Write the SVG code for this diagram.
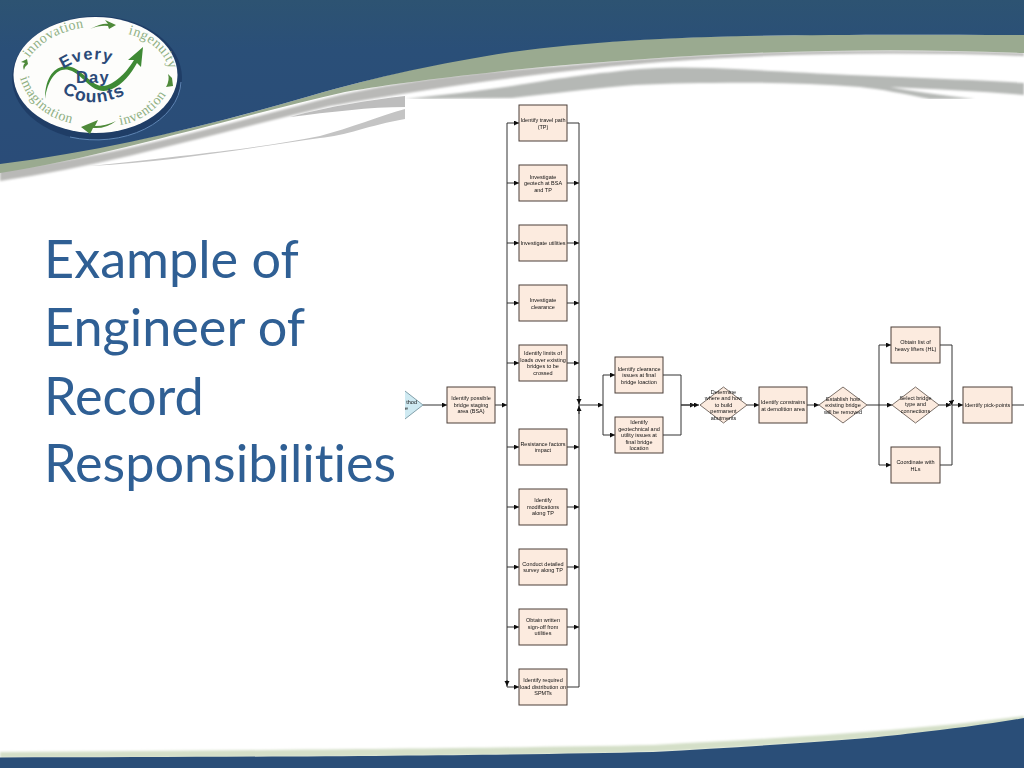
<svg xmlns="http://www.w3.org/2000/svg" width="1024" height="768" viewBox="0 0 1024 768">
<defs>
<style>
.box{fill:#fcebdf;stroke:#4a3f38;stroke-width:1}
.dia{fill:#fcebdf;stroke:#5a4e46;stroke-width:.8}
.t{font-family:"Liberation Sans",Arial,sans-serif;font-size:5.5px;fill:#111;text-anchor:middle}
.c{fill:none;stroke:#333;stroke-width:1}
.a{marker-end:url(#h)}
.title{font-family:Lato,"Open Sans",sans-serif;font-size:52.200px;fill:#2f5f94;font-variant-ligatures:none}
.lg{font-family:"Liberation Serif",serif;font-size:14px;fill:#8fb083;letter-spacing:.5px}
.ed{font-family:"Liberation Sans",Arial,sans-serif;font-weight:bold;fill:#2b4a78;letter-spacing:1.2px}
</style>
<marker id="h" markerUnits="userSpaceOnUse" markerWidth="6" markerHeight="6" refX="5" refY="2.5" orient="auto"><path d="M0 0L5 2.5L0 5Z" fill="#111"/></marker>
<filter id="soft" x="-5%" y="-5%" width="110%" height="110%"><feGaussianBlur stdDeviation="0.35"/></filter>
<filter id="bl" x="-5%" y="-20%" width="110%" height="140%"><feGaussianBlur stdDeviation="1.1"/></filter>
<linearGradient id="bg" x1="0" y1="0" x2="0" y2="1"><stop offset="0" stop-color="#2d5372"/><stop offset=".3" stop-color="#2a4f78"/><stop offset="1" stop-color="#2a4c78"/></linearGradient>
<path id="p1" d="M29 58Q47 33 86 27"/>
<path id="p2" d="M128 34Q160 42 169 68"/>
<path id="p3" d="M20 78Q33 118 80 125"/>
<path id="p4" d="M120 125Q152 120 169 90"/>
<path id="pe" d="M63 69Q92 50 126 69"/>
<path id="pc" d="M62 92Q92 113 132 91"/>
</defs>
<rect width="1024" height="768" fill="#fff"/>
<g id="banner">
<path d="M0 170C120 156 220 125 340 95C420 78 480 72 560 66C700 52 860 47 1024 53V56C860 50 700 55 560 72C460 84 400 94 330 106C220 132 110 165 0 181Z" fill="#b9b9b7" filter="url(#bl)"/>
<path d="M0 160C110 150 210 125 310 96C380 76 440 62 512 51C640 34 800 34 1024 35V53C860 46 700 52 512 70C440 78 390 84 345 92C230 118 110 156 0 173Z" fill="#9aaa90"/>
<path d="M0 0H1024V35C800 34 640 34 512 52C440 63 380 76 310 96C210 125 110 150 0 164Z" fill="url(#bg)"/>
<path d="M290 117C330 106 370 100 405 96V107C370 107 330 112 290 117Z" fill="#bdbdbd"/>
<path d="M90 166C190 155 260 148 320 136C350 128 380 116 405 109V119C370 125 345 136 320 138C250 148 170 162 90 166Z" fill="#c4c4c4"/>
<path d="M405 99C440 95 480 91 512 86C560 78 590 74 612 72C650 67 680 67 712 68C760 70 810 73 850 75C920 78 980 80 1024 83V95C980 91 930 89 890 87C910 91 940 95 975 99H930C905 94 880 89 860 87C810 83 760 82 712 83C680 83 640 84 612 87C570 91 540 95 512 98Z" fill="#b5b8b5" filter="url(#bl)"/>
</g>
<rect id="panel" x="405" y="99" width="619" height="669" fill="#fff"/>
<g id="footer">
<path d="M0 752C300 750 500 748 653 745C780 738 900 732 1024 716V722C950 732 860 742 653 752C500 757 200 758 0 758Z" fill="#d4dfc8" filter="url(#bl)"/>
<path d="M0 757.500C300 757 520 755 653 752C760 746 860 740 914 733C950 729 990 724 1024 718V768H0Z" fill="#2a4e78"/>
</g>
<g id="logo">
<ellipse cx="97" cy="78" rx="85" ry="62" fill="#1f3d66"/>
<path d="M181 82A85 60 0 0 1 70 137" fill="none" stroke="#5f86b5" stroke-width="1"/>
<ellipse cx="95.500" cy="75" rx="82" ry="58" fill="#fdfdfb"/>
<text class="lg"><textPath href="#p1">innovation</textPath></text>
<text class="lg"><textPath href="#p2">ingenuity</textPath></text>
<text class="lg"><textPath href="#p3">imagination</textPath></text>
<text class="lg"><textPath href="#p4">invention</textPath></text>
<path d="M90 29Q102 23 108 24L105 20L116 25L109 29L108 26Q100 25 90 29Z" fill="#4f8a3a"/>
<path d="M116 121Q106 126 95 126L98 120L81 127L90 134L93 128Q106 129 116 121Z" fill="#4f8a3a"/>
<path d="M166 87Q170 80 168 74L172 78L173 86Z" fill="#4f8a3a"/>
<path d="M24 70Q22 66 25 63L21 62L27 59L28 64Q25 66 24 70Z" fill="#4f8a3a"/>
<path d="M45 99C45 72 60 62 74 68C88 75 96 93 112 83C124 76 130 66 134 60L128 60L143 47L141 67L137 63C131 74 123 84 112 89C94 97 86 78 72 71C60 65 48 76 45 99Z" fill="#3f8a35"/>
<text class="ed" font-size="16.500"><textPath href="#pe">Every</textPath></text>
<text class="ed" x="76" y="83" font-size="16.500">Day</text>
<text class="ed" font-size="17.500"><textPath href="#pc">Counts</textPath></text>
</g>
<g id="title" class="title">
<text x="44" y="278">Example of</text>
<text x="44" y="346">Engineer of</text>
<text x="44" y="415">Record</text>
<text x="44" y="482">Responsibilities</text>
</g>
<g filter="url(#soft)">
<g id="connectors">
<path class="c" d="M507 123V687M579 123V687M603 375V435M681 375V435M879 345V465M952 345V465"/>
<path class="c a" d="M423 405H447"/>
<path class="c a" d="M495 405H507"/>
<path class="c a" d="M507 123H519"/><path class="c a" d="M507 183H519"/><path class="c a" d="M507 243H519"/><path class="c a" d="M507 303H519"/><path class="c a" d="M507 363H519"/><path class="c a" d="M507 447H519"/><path class="c a" d="M507 507H519"/><path class="c a" d="M507 567H519"/><path class="c a" d="M507 627H519"/><path class="c a" d="M507 687H519"/>
<path class="c a" d="M507 680V686"/>
<path class="c" d="M567 123H579M567 687H579"/>
<path class="c a" d="M567 183H579"/><path class="c a" d="M567 243H579"/><path class="c a" d="M567 303H579"/><path class="c a" d="M567 363H579"/><path class="c a" d="M567 447H579"/><path class="c a" d="M567 507H579"/><path class="c a" d="M567 567H579"/><path class="c a" d="M567 627H579"/>
<path class="c a" d="M579 396V404"/><path class="c a" d="M579 414V406"/>
<path class="c a" d="M579 405H603"/>
<path class="c a" d="M603 375H615"/><path class="c a" d="M603 435H615"/>
<path class="c" d="M663 375H681M663 435H681"/>
<path class="c a" d="M681 405H695"/><path class="c a" d="M681 405H699"/>
<path class="c a" d="M747 405H759"/><path class="c a" d="M807 405H819"/>
<path class="c" d="M867 405H879"/>
<path class="c a" d="M879 345H891"/><path class="c a" d="M879 405H892"/><path class="c a" d="M879 465H891"/>
<path class="c" d="M940 345H952M940 465H952"/>
<path class="c a" d="M939 405H951"/><path class="c a" d="M949 404L954 400"/>
<path class="c a" d="M952 405H963"/>
<path class="c" d="M1012 405H1024"/>
</g>
<g id="start">
<path d="M405 391L423 405L405 419Z" fill="#cfeaf2"/>
<path d="M405 391L423 405L405 419" fill="none" stroke="#6a8a95" stroke-width=".8"/>
<text class="t" x="417" y="403.500" style="text-anchor:end">thod</text>
<text class="t" x="408" y="410" style="text-anchor:end">e</text>
</g>
<g id="n-bsa"><rect class="box" x="447" y="387" width="48" height="36"/><text class="t"><tspan x="471" y="400">Identify possible</tspan><tspan x="471" y="406.500">bridge staging</tspan><tspan x="471" y="413">area (BSA)</tspan></text></g>
<g id="n-tp"><rect class="box" x="519" y="105" width="48" height="36"/><text class="t"><tspan x="543" y="122">Identify travel path</tspan><tspan x="543" y="128.500">(TP)</tspan></text></g>
<g id="n-geotech"><rect class="box" x="519" y="165" width="48" height="36"/><text class="t"><tspan x="543" y="178.500">Investigate</tspan><tspan x="543" y="185">geotech at BSA</tspan><tspan x="543" y="191.500">and TP</tspan></text></g>
<g id="n-utilities"><rect class="box" x="519" y="225" width="48" height="36"/><text class="t" x="543" y="245">Investigate utilities</text></g>
<g id="n-clearance"><rect class="box" x="519" y="285" width="48" height="36"/><text class="t"><tspan x="543" y="302">Investigate</tspan><tspan x="543" y="308.500">clearance</tspan></text></g>
<g id="n-limits"><rect class="box" x="519" y="345" width="48" height="36"/><text class="t"><tspan x="543" y="355">Identify limits of</tspan><tspan x="543" y="361.500">loads over existing</tspan><tspan x="543" y="368">bridges to be</tspan><tspan x="543" y="374.500">crossed</tspan></text></g>
<g id="n-resistance"><rect class="box" x="519" y="429" width="48" height="36"/><text class="t"><tspan x="543" y="445.500">Resistance factors</tspan><tspan x="543" y="452">impact</tspan></text></g>
<g id="n-mods"><rect class="box" x="519" y="489" width="48" height="36"/><text class="t"><tspan x="543" y="502">Identify</tspan><tspan x="543" y="508.500">modifications</tspan><tspan x="543" y="515">along TP</tspan></text></g>
<g id="n-survey"><rect class="box" x="519" y="549" width="48" height="36"/><text class="t"><tspan x="543" y="565.500">Conduct detailed</tspan><tspan x="543" y="572">survey along TP</tspan></text></g>
<g id="n-signoff"><rect class="box" x="519" y="609" width="48" height="36"/><text class="t"><tspan x="543" y="622">Obtain written</tspan><tspan x="543" y="628.500">sign-off from</tspan><tspan x="543" y="635">utilities</tspan></text></g>
<g id="n-load"><rect class="box" x="519" y="669" width="48" height="36"/><text class="t"><tspan x="543" y="682">Identify required</tspan><tspan x="543" y="688.500">load distribution on</tspan><tspan x="543" y="695">SPMTs</tspan></text></g>
<g id="n-final-clear"><rect class="box" x="615" y="357" width="48" height="36"/><text class="t"><tspan x="639" y="370.500">Identify clearance</tspan><tspan x="639" y="377">issues at final</tspan><tspan x="639" y="383.500">bridge loaction</tspan></text></g>
<g id="n-final-geo"><rect class="box" x="615" y="417" width="48" height="36"/><text class="t"><tspan x="639" y="424">Identify</tspan><tspan x="639" y="430.500">geotechnical and</tspan><tspan x="639" y="437">utility issues at</tspan><tspan x="639" y="443.500">final bridge</tspan><tspan x="639" y="450">location</tspan></text></g>
<g id="n-abut"><path class="dia" d="M700 405L723.500 387L747 405L723.500 423Z"/><text class="t"><tspan x="723.500" y="393.500">Determine</tspan><tspan x="723.500" y="400">where and how</tspan><tspan x="723.500" y="406.500">to build</tspan><tspan x="723.500" y="413">permanent</tspan><tspan x="723.500" y="419.500">abutments</tspan></text></g>
<g id="n-constrains"><rect class="box" x="759" y="387" width="48" height="36"/><text class="t"><tspan x="783" y="404">Identify constrains</tspan><tspan x="783" y="410.500">at demolition area</tspan></text></g>
<g id="n-removed"><path class="dia" d="M819 405L843 387L867 405L843 423Z"/><text class="t"><tspan x="843" y="400.500">Establish how</tspan><tspan x="843" y="407">existing bridge</tspan><tspan x="843" y="413.500">will be removed</tspan></text></g>
<g id="n-heavy"><rect class="box" x="891" y="327" width="49" height="36"/><text class="t"><tspan x="915.500" y="344">Obtain list of</tspan><tspan x="915.500" y="350.500">heavy lifters (HL)</tspan></text></g>
<g id="n-select"><path class="dia" d="M892 405L915.500 387L939 405L915.500 423Z"/><text class="t"><tspan x="915.500" y="399.500">Select bridge</tspan><tspan x="915.500" y="406">type and</tspan><tspan x="915.500" y="412.500">connections</tspan></text></g>
<g id="n-coord"><rect class="box" x="891" y="447" width="49" height="36"/><text class="t"><tspan x="915.500" y="464">Coordinate with</tspan><tspan x="915.500" y="470.500">HLs</tspan></text></g>
<g id="n-pick"><rect class="box" x="963" y="387" width="49" height="36"/><text class="t" x="987.500" y="406.500">Identify pick-points</text></g>
</g>
</svg>
